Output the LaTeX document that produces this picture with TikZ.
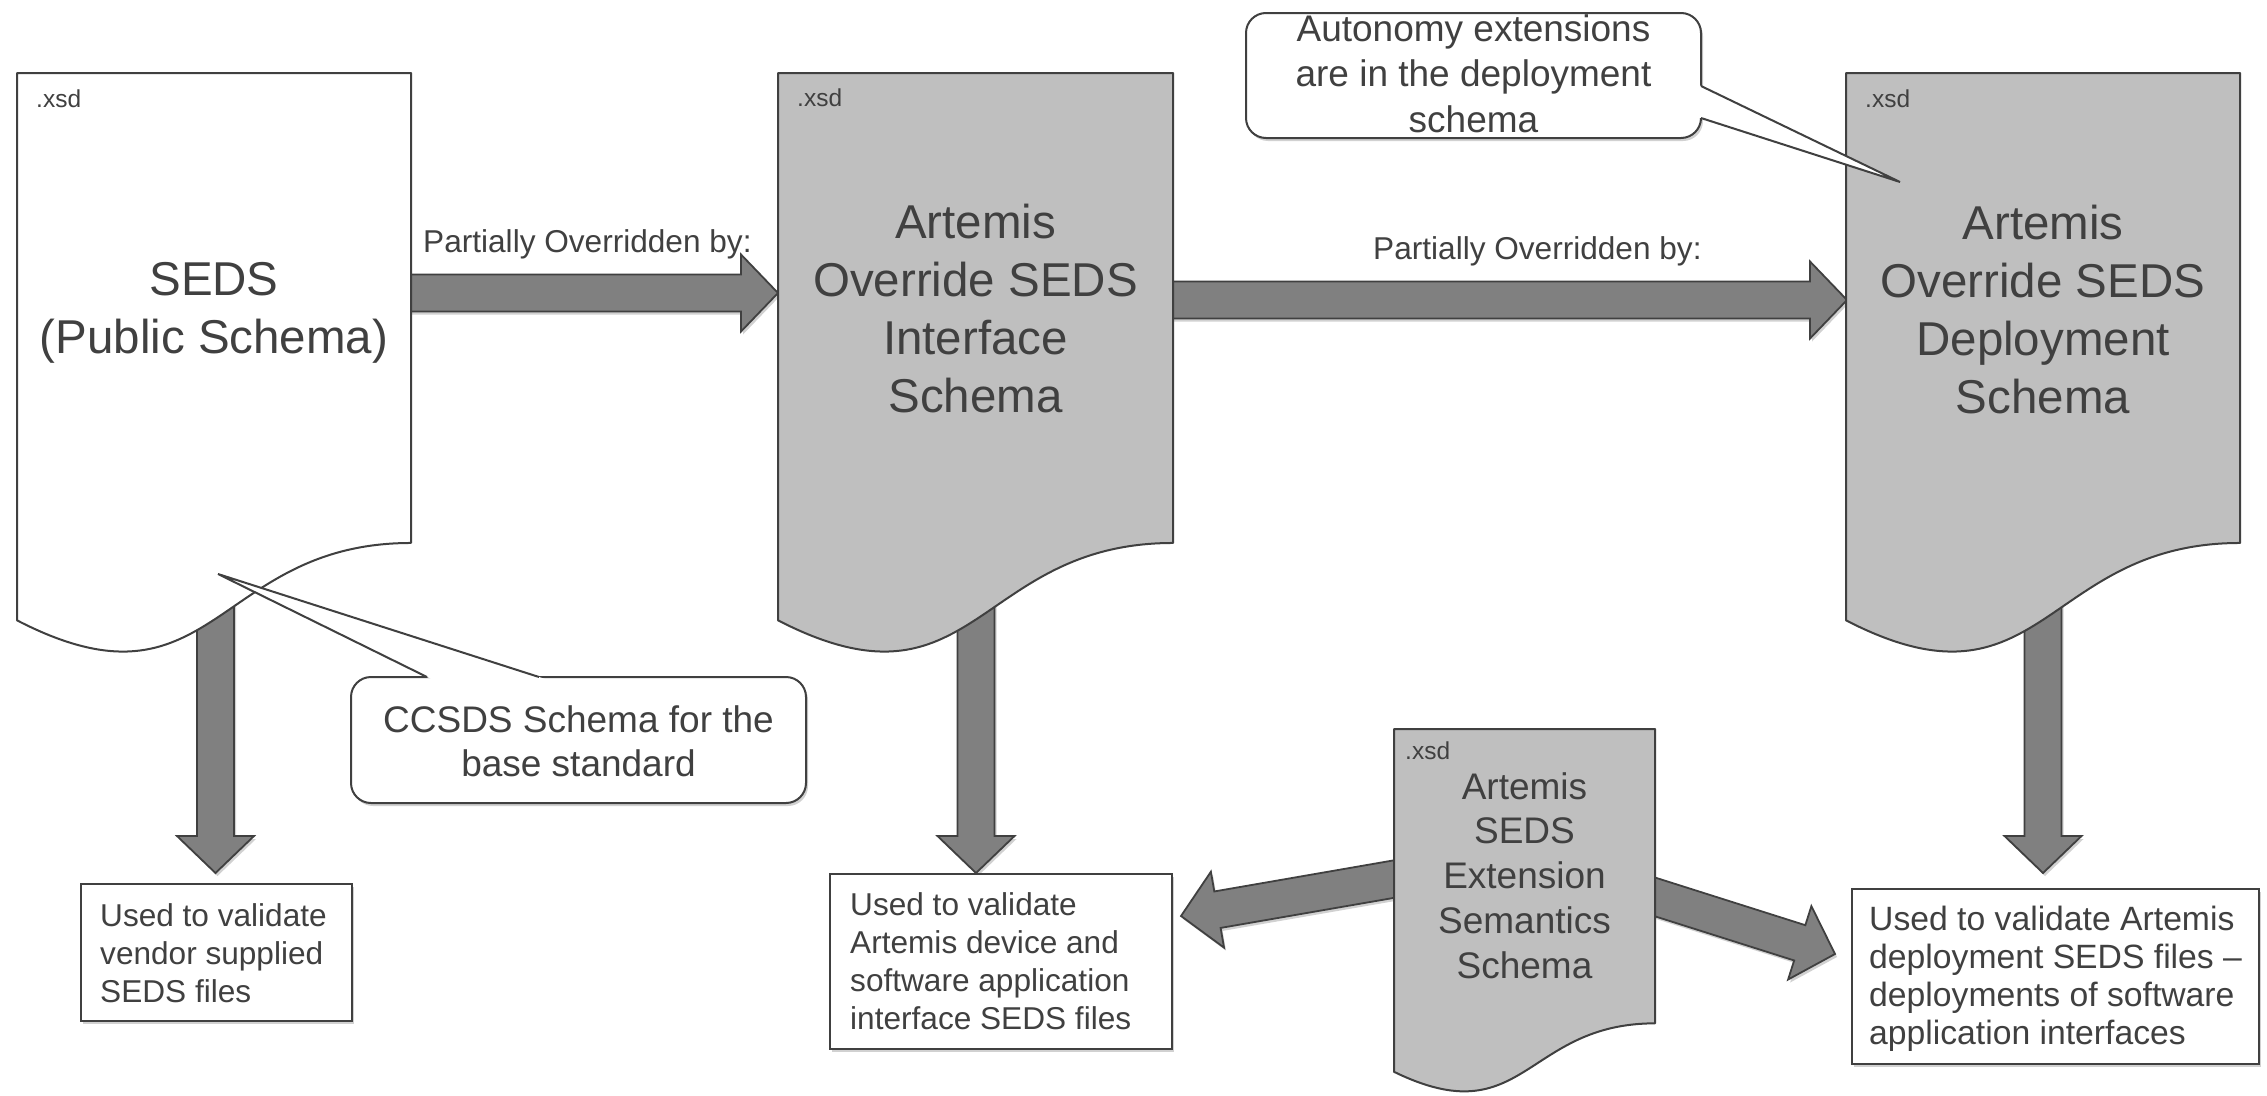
\documentclass[tikz,border=0pt]{standalone}
\usepackage{fontspec}
\setmainfont{Liberation Sans}
\usetikzlibrary{calc,shadows}
\definecolor{txt}{HTML}{404040}
\definecolor{edge}{HTML}{404040}
\definecolor{docgray}{HTML}{BFBFBF}
\definecolor{arrgray}{HTML}{808080}
\newcommand{\ml}[2]{\begin{tabular}[t]{@{}#1@{}}#2\end{tabular}}
\newcommand{\docshape}[5]{%
  \filldraw[docline,fill=#5] (#1,#2) -- ({#1+#3},#2) -- ({#1+#3},{#2+0.802*#4})
    .. controls ({#1+0.5*#3},{#2+0.802*#4}) and ({#1+0.5*#3},{#2+1.1075*#4}) .. (#1,{#2+0.934*#4}) -- cycle;}
\newcommand{\blockarrow}[2]{%
  \coordinate (#1h) at ($(#2)!37pt!(#1)$);
  \filldraw[blockarr] ($(#1)!18.5pt!90:(#2)$) -- ($(#1h)!18.5pt!90:(#2)$)
    -- ($(#1h)!38.5pt!90:(#2)$) -- (#2) -- ($(#1h)!38.5pt!-90:(#2)$)
    -- ($(#1h)!18.5pt!-90:(#2)$) -- ($(#1)!18.5pt!-90:(#2)$) -- cycle;}
\newcommand{\calltail}[3]{%
  \fill[white] (#3) -- ($(#3)!1.04!(#1)$) -- ($(#3)!1.04!(#2)$) -- cycle;
  \draw[tailline] (#1) -- (#3) -- (#2);}
\tikzset{
  docline/.style={draw=edge, line width=2pt, line join=round},
  softshadow/.style={drop shadow={shadow xshift=2pt, shadow yshift=-3pt, opacity=0.18, fill=black}},
  blockarr/.style={fill=arrgray, draw=edge, line width=1.8pt, line join=miter, softshadow},
  tailline/.style={draw=edge, line width=2pt, line join=miter},
  bigtext/.style={inner sep=0pt, text=txt, anchor=base, font=\fontsize{47.5}{58}\selectfont},
  midtext/.style={inner sep=0pt, text=txt, anchor=base, font=\fontsize{37}{44.75}\selectfont},
  smalltext/.style={inner sep=0pt, text=txt, anchor=base west, font=\fontsize{31.6}{38.3}\selectfont},
  xsdtext/.style={inner sep=0pt, text=txt, anchor=base west, font=\fontsize{24.5}{29}\selectfont},
  resbox/.style={draw=edge, fill=white, line width=2pt, inner sep=0pt, softshadow},
  callbox/.style={draw=edge, fill=white, line width=2pt, rounded corners=20pt, inner sep=0pt, softshadow},
}
\begin{document}
\begin{tikzpicture}[x=1pt,y=-1pt]
\useasboundingbox (0,0) rectangle (2267,1095);
\fill[white] (0,0) rectangle (2267,1095);
% connector end points
\coordinate (a1t) at (405,293);   \coordinate (a1p) at (778,293);
\coordinate (a2t) at (1167,300);  \coordinate (a2p) at (1847,300);
\coordinate (d1t) at (215.5,560); \coordinate (d1p) at (215.5,873);
\coordinate (d2t) at (976,560);   \coordinate (d2p) at (976,873);
\coordinate (d3t) at (2043,560);  \coordinate (d3p) at (2043,873);
\coordinate (elt) at (1414,875.6); \coordinate (elp) at (1181,916);
\coordinate (ert) at (1636,890.9); \coordinate (erp) at (1835,954);
% block arrows (behind the documents)
\blockarrow{a1t}{a1p}
\blockarrow{a2t}{a2p}
\blockarrow{d1t}{d1p}
\blockarrow{d2t}{d2p}
\blockarrow{d3t}{d3p}
\blockarrow{elt}{elp}
\blockarrow{ert}{erp}
% documents
\docshape{17}{73}{394}{586}{white}
\docshape{778}{73}{395}{586}{docgray}
\docshape{1846}{73}{394}{586}{docgray}
\docshape{1394}{729}{261}{367}{docgray}
\node[xsdtext] (x1) at (36,107) {.xsd};
\node[xsdtext] (x2) at (797,106) {.xsd};
\node[xsdtext] (x3) at (1865,107) {.xsd};
\node[xsdtext] (x4) at (1405,759) {.xsd};
\node[bigtext] (seds) at (214,295) {\ml{c}{SEDS\\(Public Schema)}};
\node[bigtext] (iface) at (975.5,238) {\ml{c}{Artemis\\Override SEDS\\Interface\\Schema}};
\node[bigtext] (deploy) at (2043,239) {\ml{c}{Artemis\\Override SEDS\\Deployment\\Schema}};
\node[midtext] (ext) at (1524.5,799) {\ml{c}{Artemis\\SEDS\\Extension\\Semantics\\Schema}};
% arrow labels
\node[smalltext] (l1) at (423,252) {Partially Overridden by:};
\node[smalltext] (l2) at (1373,259) {Partially Overridden by:};
% result boxes
\node[resbox, minimum width=271pt, minimum height=137pt] (b1) at (216.5,952.5) {};
\node[smalltext] (b1t) at (100,926) {\ml{l}{Used to validate\\vendor supplied\\SEDS files}};
\node[resbox, minimum width=342pt, minimum height=175pt] (b2) at (1001,961.5) {};
\node[smalltext] (b2t) at (850,915) {\ml{l}{Used to validate\\Artemis device and\\software application\\interface SEDS files}};
\node[resbox, minimum width=407pt, minimum height=175pt] (b3) at (2055.5,976.5) {};
\node[smalltext, font=\fontsize{33.7}{38.3}\selectfont] (b3t) at (1869,930) {\ml{l}{Used to validate Artemis\\deployment SEDS files –\\deployments of software\\application interfaces}};
% callouts
\node[callbox, minimum width=455pt, minimum height=126pt] (c1) at (578.5,740) {};
\coordinate (c1a) at (427,677); \coordinate (c1b) at (539,677); \coordinate (c1p) at (218,574);
\calltail{c1a}{c1b}{c1p}
\node[midtext] (c1t) at (578.5,732) {\ml{c}{CCSDS Schema for the\\base standard}};
\node[callbox, minimum width=455pt, minimum height=125pt] (c2) at (1473.5,75.5) {};
\coordinate (c2a) at (1701,86); \coordinate (c2b) at (1701,118); \coordinate (c2p) at (1900,182);
\calltail{c2a}{c2b}{c2p}
\node[midtext, font=\fontsize{37}{45.5}\selectfont] (c2t) at (1473.5,41) {\ml{c}{Autonomy extensions\\are in the deployment\\schema}};
\end{tikzpicture}
\end{document}
